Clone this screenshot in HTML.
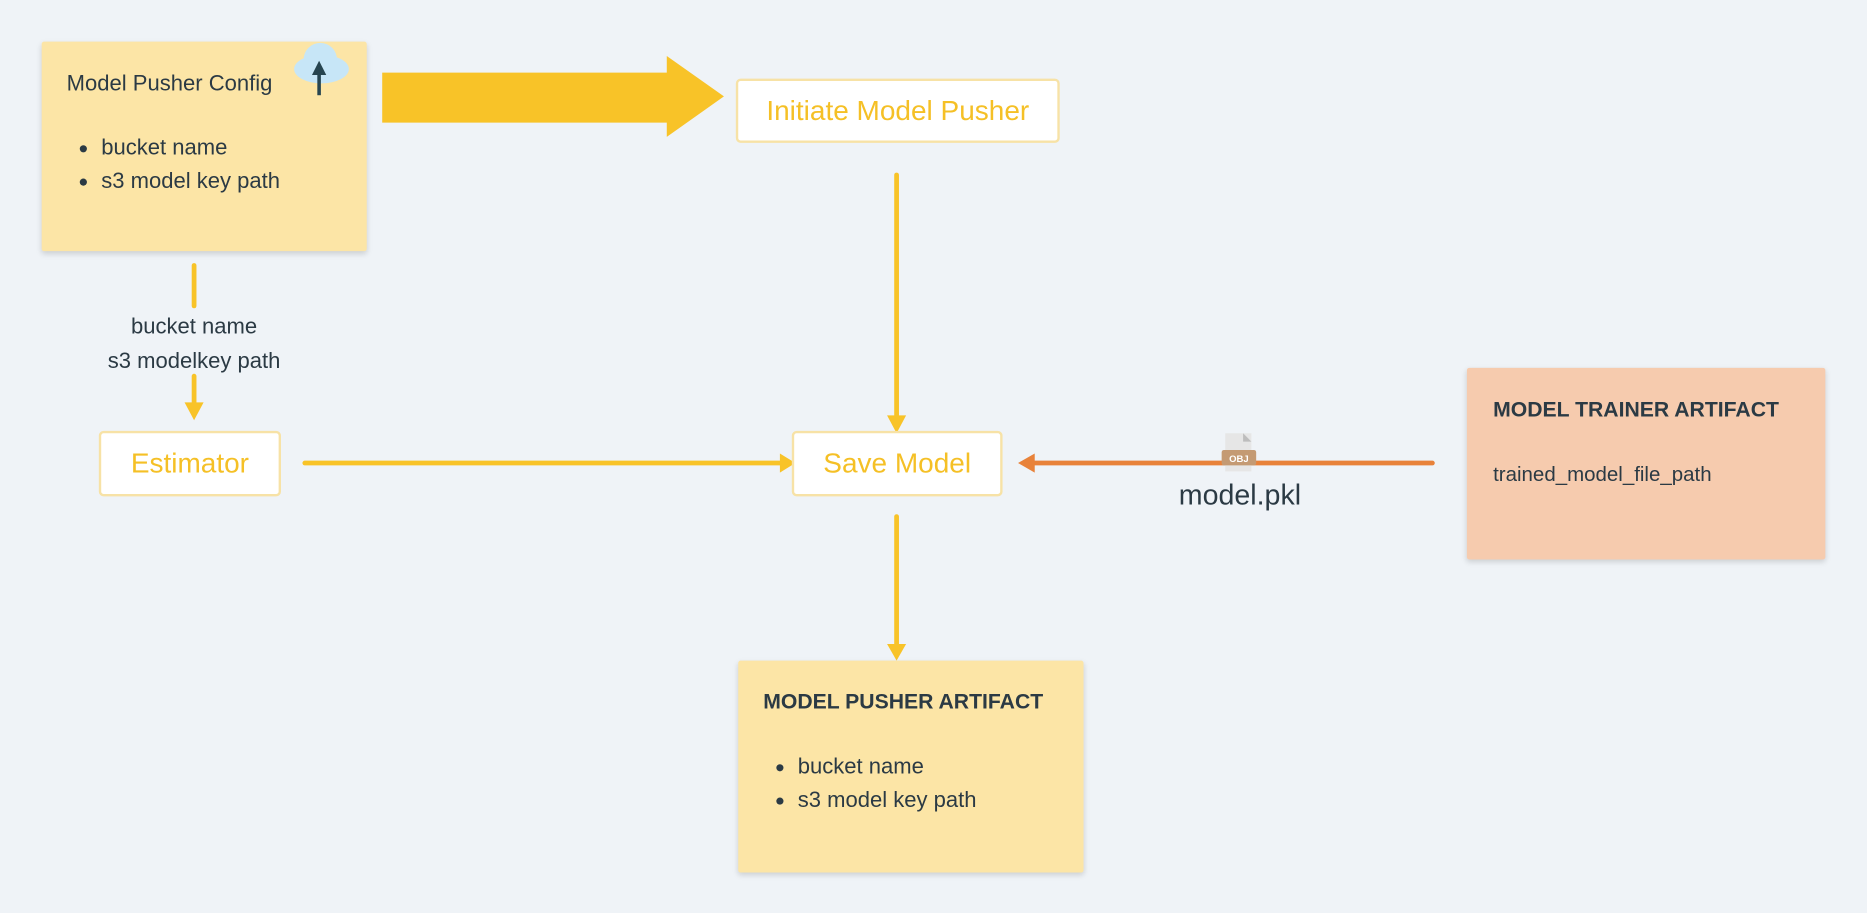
<!DOCTYPE html>
<html><head><meta charset="utf-8"><style>
html,body{margin:0;padding:0;background:#eff3f7;}
body{width:1867px;height:913px;overflow:hidden;position:relative;}
#c{position:absolute;left:0;top:0;width:1568px;height:767px;transform:scale(1.19069,1.19035);transform-origin:0 0;font-family:"Liberation Sans",sans-serif;color:#2b3a44;}
.a{position:absolute;box-sizing:border-box;white-space:nowrap;}
.note{background:#fce5a6;box-shadow:0 2px 5px rgba(0,0,0,0.15);border-radius:2px;}
.box{background:#fff;border:2px solid #f7e2a6;border-radius:4px;color:#f5c026;font-size:23.5px;display:flex;align-items:center;justify-content:center;}
ul{margin:0;padding-left:48px;}
li{font-size:18.5px;line-height:28px;}
</style></head><body><div id="c">
<svg class="a" style="left:0;top:0" width="1568" height="767">
<polygon points="321,61 560,61 560,47 608,81 560,115 560,103 321,103" fill="#f8c328"/>
<line x1="163" y1="223" x2="163" y2="257" stroke="#f8c328" stroke-width="4" stroke-linecap="round"/>
<line x1="163" y1="316" x2="163" y2="338" stroke="#f8c328" stroke-width="4" stroke-linecap="round"/>
<polygon points="155,338 171,338 163,353" fill="#f8c328"/>
<line x1="753" y1="147" x2="753" y2="350" stroke="#f8c328" stroke-width="4" stroke-linecap="round"/>
<polygon points="745,349 761,349 753,364" fill="#f8c328"/>
<line x1="256" y1="389" x2="656" y2="389" stroke="#f8c328" stroke-width="4" stroke-linecap="round"/>
<polygon points="655,381 655,397 668,389" fill="#f8c328"/>
<line x1="753" y1="434" x2="753" y2="542" stroke="#f8c328" stroke-width="4" stroke-linecap="round"/>
<polygon points="745,541 761,541 753,555" fill="#f8c328"/>
<line x1="868" y1="389" x2="1203" y2="389" stroke="#e8823a" stroke-width="4" stroke-linecap="round"/>
<polygon points="869,381 869,397 855,389" fill="#e8823a"/>
<rect x="1029" y="364" width="22" height="32" fill="#e6e6e6"/>
<polygon points="1044,364 1051,371 1044,371" fill="#bdbdbd"/>
<rect x="1026" y="378" width="29" height="13" rx="2" fill="#c49a73"/>
<text x="1040.5" y="388" font-size="8" font-weight="bold" fill="#fff" text-anchor="middle" font-family="Liberation Sans">OBJ</text>
</svg>
<div class="a note" style="left:35px;top:35px;width:273px;height:176px;">
 <div class="a" style="left:21px;top:24px;font-size:18.5px;">Model Pusher Config</div>
 <ul class="a" style="left:2px;top:75px;"><li>bucket name</li><li>s3 model key path</li></ul>
</div>
<svg class="a" style="left:0;top:0" width="400" height="100">
<ellipse cx="270" cy="58" rx="23" ry="12" fill="#c7e6f7"/>
<ellipse cx="269" cy="50" rx="14" ry="14" fill="#c7e6f7"/>
<line x1="268" y1="80" x2="268" y2="58" stroke="#274550" stroke-width="3"/>
<polygon points="262,63 274,63 268,51" fill="#274550"/>
</svg>
<div class="a box" style="left:618px;top:66px;width:272px;height:54px;">Initiate Model Pusher</div>
<div class="a" style="left:60px;top:259px;width:206px;text-align:center;font-size:18.5px;line-height:29px;">bucket name<br>s3 modelkey path</div>
<div class="a box" style="left:83px;top:362px;width:153px;height:55px;">Estimator</div>
<div class="a box" style="left:665px;top:362px;width:177px;height:55px;">Save Model</div>
<div class="a" style="left:990px;top:403px;font-size:24px;">model.pkl</div>
<div class="a note" style="left:1232px;top:309px;width:301px;height:161px;background:#f6cbae;">
 <div class="a" style="left:22px;top:25px;font-size:17.8px;font-weight:bold;">MODEL TRAINER ARTIFACT</div>
 <div class="a" style="left:22px;top:79px;font-size:17.2px;">trained_model_file_path</div>
</div>
<div class="a note" style="left:620px;top:555px;width:290px;height:178px;">
 <div class="a" style="left:21px;top:24px;font-size:17.8px;font-weight:bold;">MODEL PUSHER ARTIFACT</div>
 <ul class="a" style="left:2px;top:75px;"><li>bucket name</li><li>s3 model key path</li></ul>
</div>
</div></body></html>
